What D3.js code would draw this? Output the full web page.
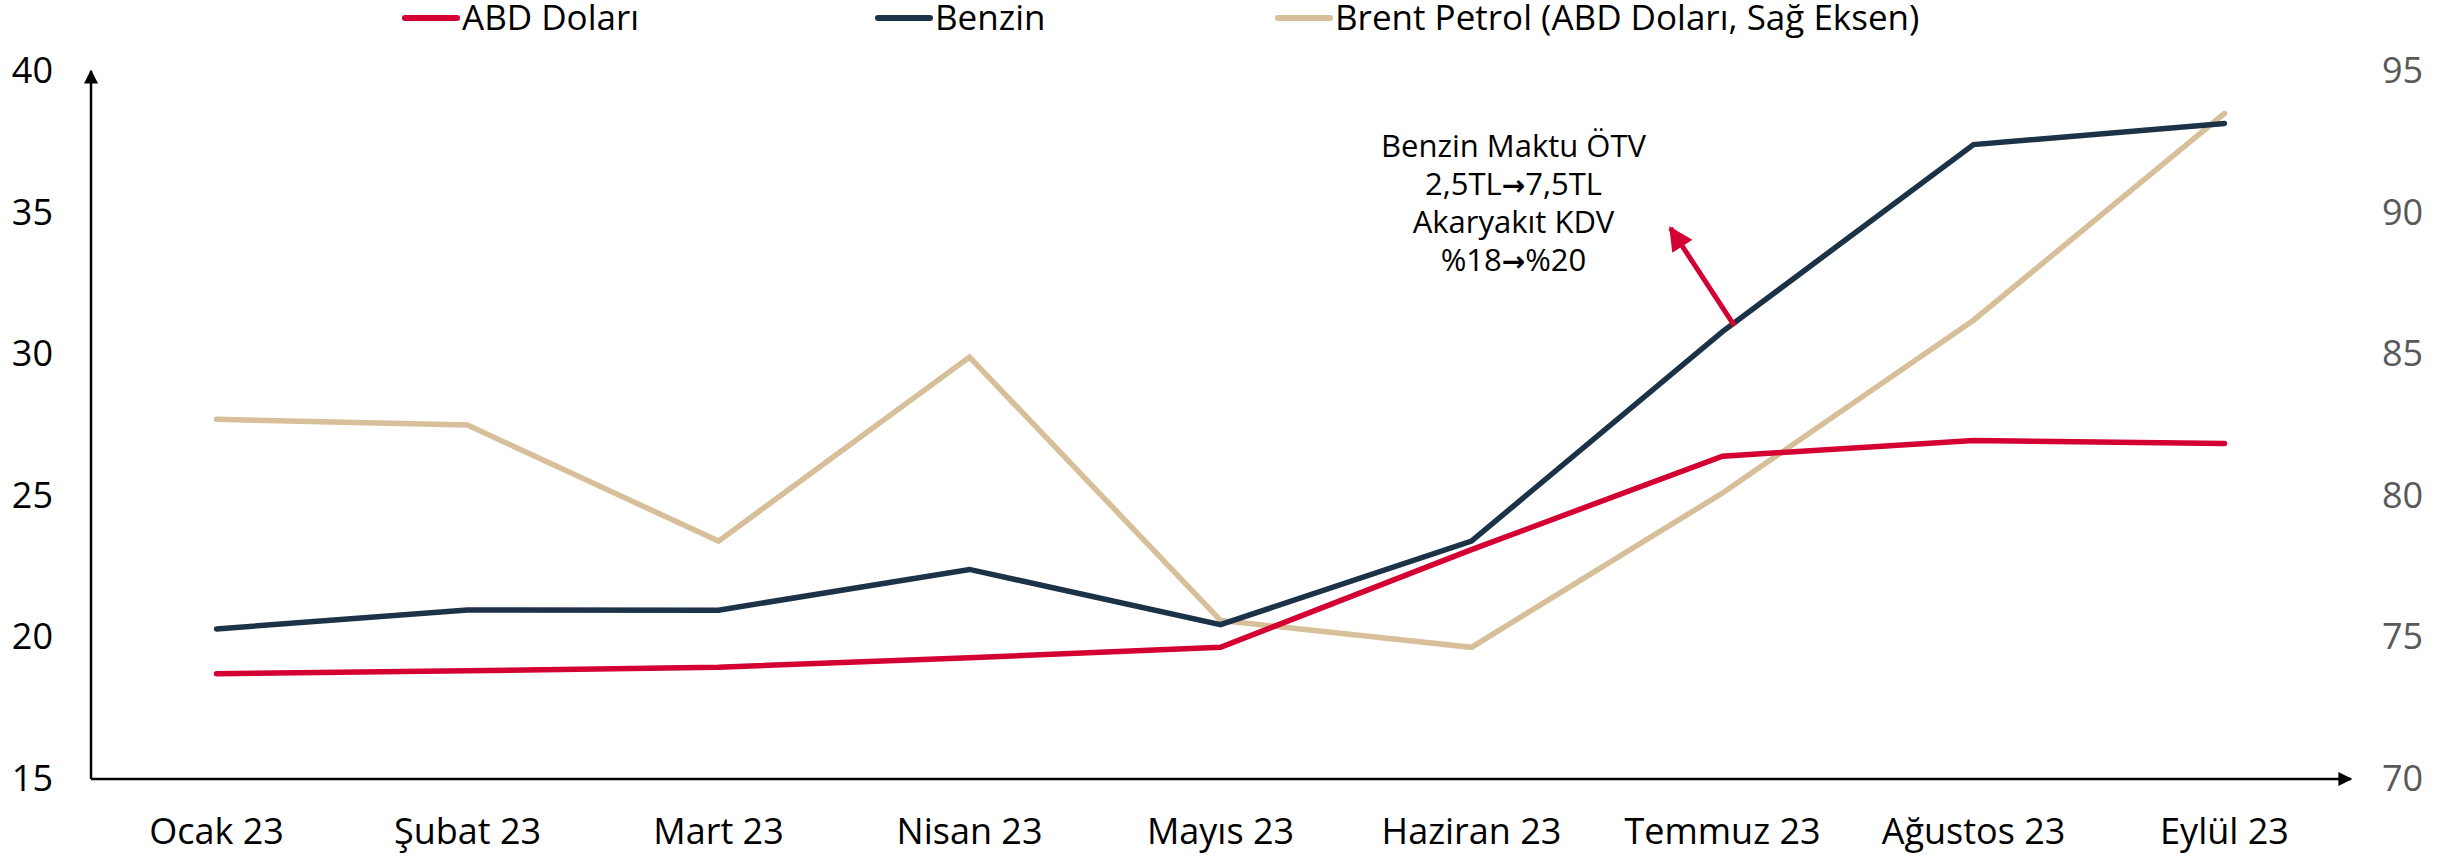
<!DOCTYPE html>
<html>
<head>
<meta charset="utf-8">
<script src="https://cdn.jsdelivr.net/npm/d3@7"></script>
<style>
  body { margin: 0; background: #fff; }
  text { font-family: "Open Sans", "Noto Sans", sans-serif; }
</style>
</head>
<body>
<div id="chart"></div>
<script>
const months = ["Ocak 23", "Şubat 23", "Mart 23", "Nisan 23", "Mayıs 23", "Haziran 23", "Temmuz 23", "Ağustos 23", "Eylül 23"];
const usd = [18.72, 18.82, 18.95, 19.28, 19.65, 23.1, 26.4, 26.95, 26.85];
const benzin = [20.3, 20.97, 20.96, 22.4, 20.45, 23.4, 30.8, 37.4, 38.15];
const brent = [82.7, 82.5, 78.4, 84.9, 75.6, 74.65, 80.1, 86.2, 93.5];
const leftTicks = [15, 20, 25, 30, 35, 40];
const rightTicks = [70, 75, 80, 85, 90, 95];
const seriesNames = ["ABD Doları", "Benzin", "Brent Petrol (ABD Doları, Sağ Eksen)"];
// each note line split around its arrow glyph
const noteLines = [["Benzin Maktu ÖTV"], ["2,5TL", "7,5TL"], ["Akaryakıt KDV"], ["%18", "%20"]];

const W = 2458, H = 861;
const red = "#d40032", navy = "#1c3247", tan = "#d6bf99";

const svg = d3.select("#chart").append("svg")
    .attr("width", W)
    .attr("height", H);

const defs = svg.append("defs");
function marker(id, color, w, h) {
    defs.append("marker")
        .attr("id", id)
        .attr("viewBox", "0 0 10 10")
        .attr("refX", 9).attr("refY", 5)
        .attr("markerUnits", "userSpaceOnUse")
        .attr("markerWidth", w).attr("markerHeight", h)
        .attr("orient", "auto")
        .append("path")
        .attr("d", "M0,0 L10,5 L0,10 Z")
        .attr("fill", color);
}
marker("axArrow", "#000", 20, 14);
marker("redArrow", red, 26, 24);

const x = d3.scaleBand().domain(months).range([91, 2350]);
const xc = d => x(d) + x.bandwidth() / 2;
const yL = d3.scaleLinear().domain([15, 40]).range([779, 71]);
const yR = d3.scaleLinear().domain([70, 95]).range([779, 71]);

// axes
svg.append("line")
    .attr("x1", 91).attr("y1", yL(15))
    .attr("x2", 91).attr("y2", yL(40))
    .attr("stroke", "#000").attr("stroke-width", 2.5)
    .attr("marker-end", "url(#axArrow)");
svg.append("line")
    .attr("x1", 91).attr("y1", yL(15))
    .attr("x2", 2351).attr("y2", yL(15))
    .attr("stroke", "#000").attr("stroke-width", 2.5)
    .attr("marker-end", "url(#axArrow)");

const gl = svg.append("g")
    .attr("transform", "translate(53,0)")
    .call(d3.axisLeft(yL).tickValues(leftTicks).tickSize(0).tickPadding(0));
gl.select(".domain").remove();
gl.selectAll("text")
    .attr("font-size", 36)
    .attr("fill", "#000")
    .style("font-family", "'Open Sans', sans-serif");

const gr = svg.append("g")
    .attr("transform", "translate(2382,0)")
    .call(d3.axisRight(yR).tickValues(rightTicks).tickSize(0).tickPadding(0));
gr.select(".domain").remove();
gr.selectAll("text")
    .attr("font-size", 36)
    .attr("fill", "#595959")
    .style("font-family", "'Open Sans', sans-serif");

const gx = svg.append("g")
    .attr("transform", "translate(0,818)")
    .call(d3.axisBottom(x).tickSize(0).tickPadding(0));
gx.select(".domain").remove();
gx.selectAll("text")
    .attr("font-size", 36)
    .attr("fill", "#000")
    .style("font-family", "'Open Sans', sans-serif");

// lines
const lineL = d3.line().x((d, i) => xc(months[i])).y(d => yL(d));
const lineR = d3.line().x((d, i) => xc(months[i])).y(d => yR(d));

svg.append("path").datum(brent)
    .attr("d", lineR).attr("fill", "none")
    .attr("stroke", tan).attr("stroke-width", 5.5)
    .attr("stroke-linecap", "round");
svg.append("path").datum(benzin)
    .attr("d", lineL).attr("fill", "none")
    .attr("stroke", navy).attr("stroke-width", 5.5)
    .attr("stroke-linecap", "round");
svg.append("path").datum(usd)
    .attr("d", lineL).attr("fill", "none")
    .attr("stroke", red).attr("stroke-width", 5.5)
    .attr("stroke-linecap", "round");

// annotation
const tx = xc("Haziran 23") + 42;
const note = svg.append("g").selectAll("text")
    .data(noteLines)
    .join("text")
    .attr("x", tx)
    .attr("y", (d, i) => yL(36.95) + i * 38)
    .attr("text-anchor", "middle")
    .attr("font-size", 31)
    .attr("fill", "#000");
note.each(function(parts) {
    const t = d3.select(this);
    parts.forEach((p, j) => {
        if (j > 0) {
            t.append("tspan")
                .style("font-family", "'DejaVu Sans', sans-serif")
                .attr("font-weight", "bold")
                .attr("font-size", 28)
                .text("→");
        }
        t.append("tspan").text(p);
    });
});

svg.append("line")
    .attr("x1", xc("Temmuz 23") + 12).attr("y1", yL(31.0))
    .attr("x2", xc("Temmuz 23") - 52).attr("y2", yL(34.45))
    .attr("stroke", red).attr("stroke-width", 5)
    .attr("marker-end", "url(#redArrow)");

// legend
const legendX = [405, 878, 1278];
const colors = [red, navy, tan];
const lg = svg.append("g").selectAll("g")
    .data(seriesNames)
    .join("g")
    .attr("transform", (d, i) => `translate(${legendX[i]},18)`);
lg.append("line")
    .attr("x1", 0).attr("x2", 52)
    .attr("stroke", (d, i) => colors[i])
    .attr("stroke-width", 6)
    .attr("stroke-linecap", "round");
lg.append("text")
    .attr("x", 57)
    .attr("y", 12)
    .attr("font-size", 35)
    .attr("fill", "#000")
    .text(d => d);
</script>
</body>
</html>
